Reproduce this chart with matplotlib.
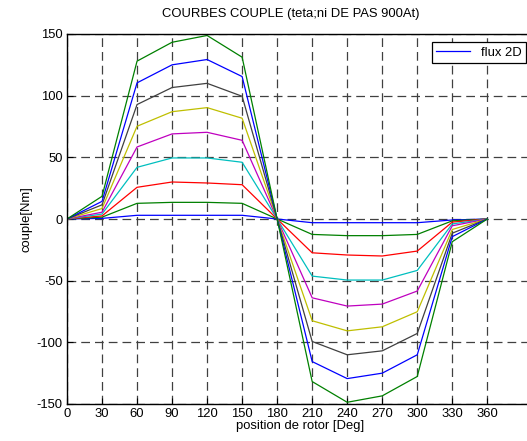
"""Courbes couple en fonction de la position du rotor."""

import matplotlib

matplotlib.use("Agg", force=True)
import matplotlib.pyplot as plt

plt.rcParams["font.family"] = ["Liberation Sans", "DejaVu Sans"]
plt.rcParams["axes.unicode_minus"] = False

theta = [0, 30, 60, 90, 120, 150, 180, 210, 240, 270, 300, 330, 360]

# one curve per current step (smallest to largest)
c1 = [0, 0.5, 3, 3, 3, 3, 0, -3, -3, -3, -3, -0.8, 0]
c2 = [0, 1.5, 12.7, 13.5, 13.5, 12.7, 0, -12.5, -13.5, -13.5, -12.5, -1.5, 0]
c3 = [0, 2.5, 25.7, 30, 29.2, 27.8, 0, -27.4, -29.2, -30, -26, -2.5, 0]
c4 = [0, 4, 41.9, 49.5, 49.5, 46, 0, -46.3, -49.5, -49.5, -41.7, -4, 0]
c5 = [0, 5.5, 58.4, 69, 70.3, 63.8, 0, -63.9, -70.6, -69, -58.4, -5.5, 0]
c6 = [0, 8.5, 75.2, 87, 90.3, 81.7, 0, -82.5, -90.7, -87.4, -75.2, -8.5, 0]
c7 = [0, 11.5, 92.8, 106.6, 110, 99.5, 0, -99.3, -110.1, -106.9, -92.8, -11.5, 0]
c8 = [0, 14.3, 110.4, 125, 129.3, 115.5, 0, -115.6, -129.4, -125, -110.1, -14.3, 0]
c9 = [0, 18.4, 128, 143.3, 148.8, 131.2, 0, -131.8, -148.6, -143.4, -127.7, -18.4, 0]
curves = [c1, c2, c3, c4, c5, c6, c7, c8, c9]

colors = ["#0000ff", "#008000", "#ff0000", "#00bfbf", "#bf00bf",
          "#bfbf00", "#404040", "#0000ff", "#008000"]

fs = 9.4

fig = plt.figure(figsize=(5.27, 4.41), dpi=100)
ax = fig.add_axes([67 / 527, 1 - 404 / 441, 467 / 527, 370 / 441])

for i, (vals, col) in enumerate(zip(curves, colors)):
    ax.plot(theta, vals, color=col, lw=0.9, label="flux 2D" if i == 0 else None)

ax.set_xlim(0, 400)
ax.set_ylim(-150, 150)
ax.set_xticks(theta)
ax.set_yticks([-150, -100, -50, 0, 50, 100, 150])
ax.tick_params(direction="in", labelsize=fs, length=4, width=0.8, pad=3)
ax.grid(True, color="#404040", linestyle=(0, (7, 4)), lw=0.9)
for s in ax.spines.values():
    s.set_linewidth(1.0)

ax.set_title("COURBES COUPLE (teta;ni DE PAS 900At)", fontsize=fs, x=0.48, pad=12)
ax.set_xlabel("position de rotor [Deg]", fontsize=fs, labelpad=0)
ax.set_ylabel("couple[Nm]", fontsize=fs, labelpad=3)

leg = ax.legend(loc="upper right", bbox_to_anchor=((526 - 67) / 467, (404 - 42) / 370),
                fontsize=fs, fancybox=False, framealpha=1, handlelength=2.6,
                borderpad=0.35, borderaxespad=0)
leg.get_frame().set_edgecolor("black")
leg.get_frame().set_linewidth(0.9)

fig.savefig("out.png", dpi=100)
